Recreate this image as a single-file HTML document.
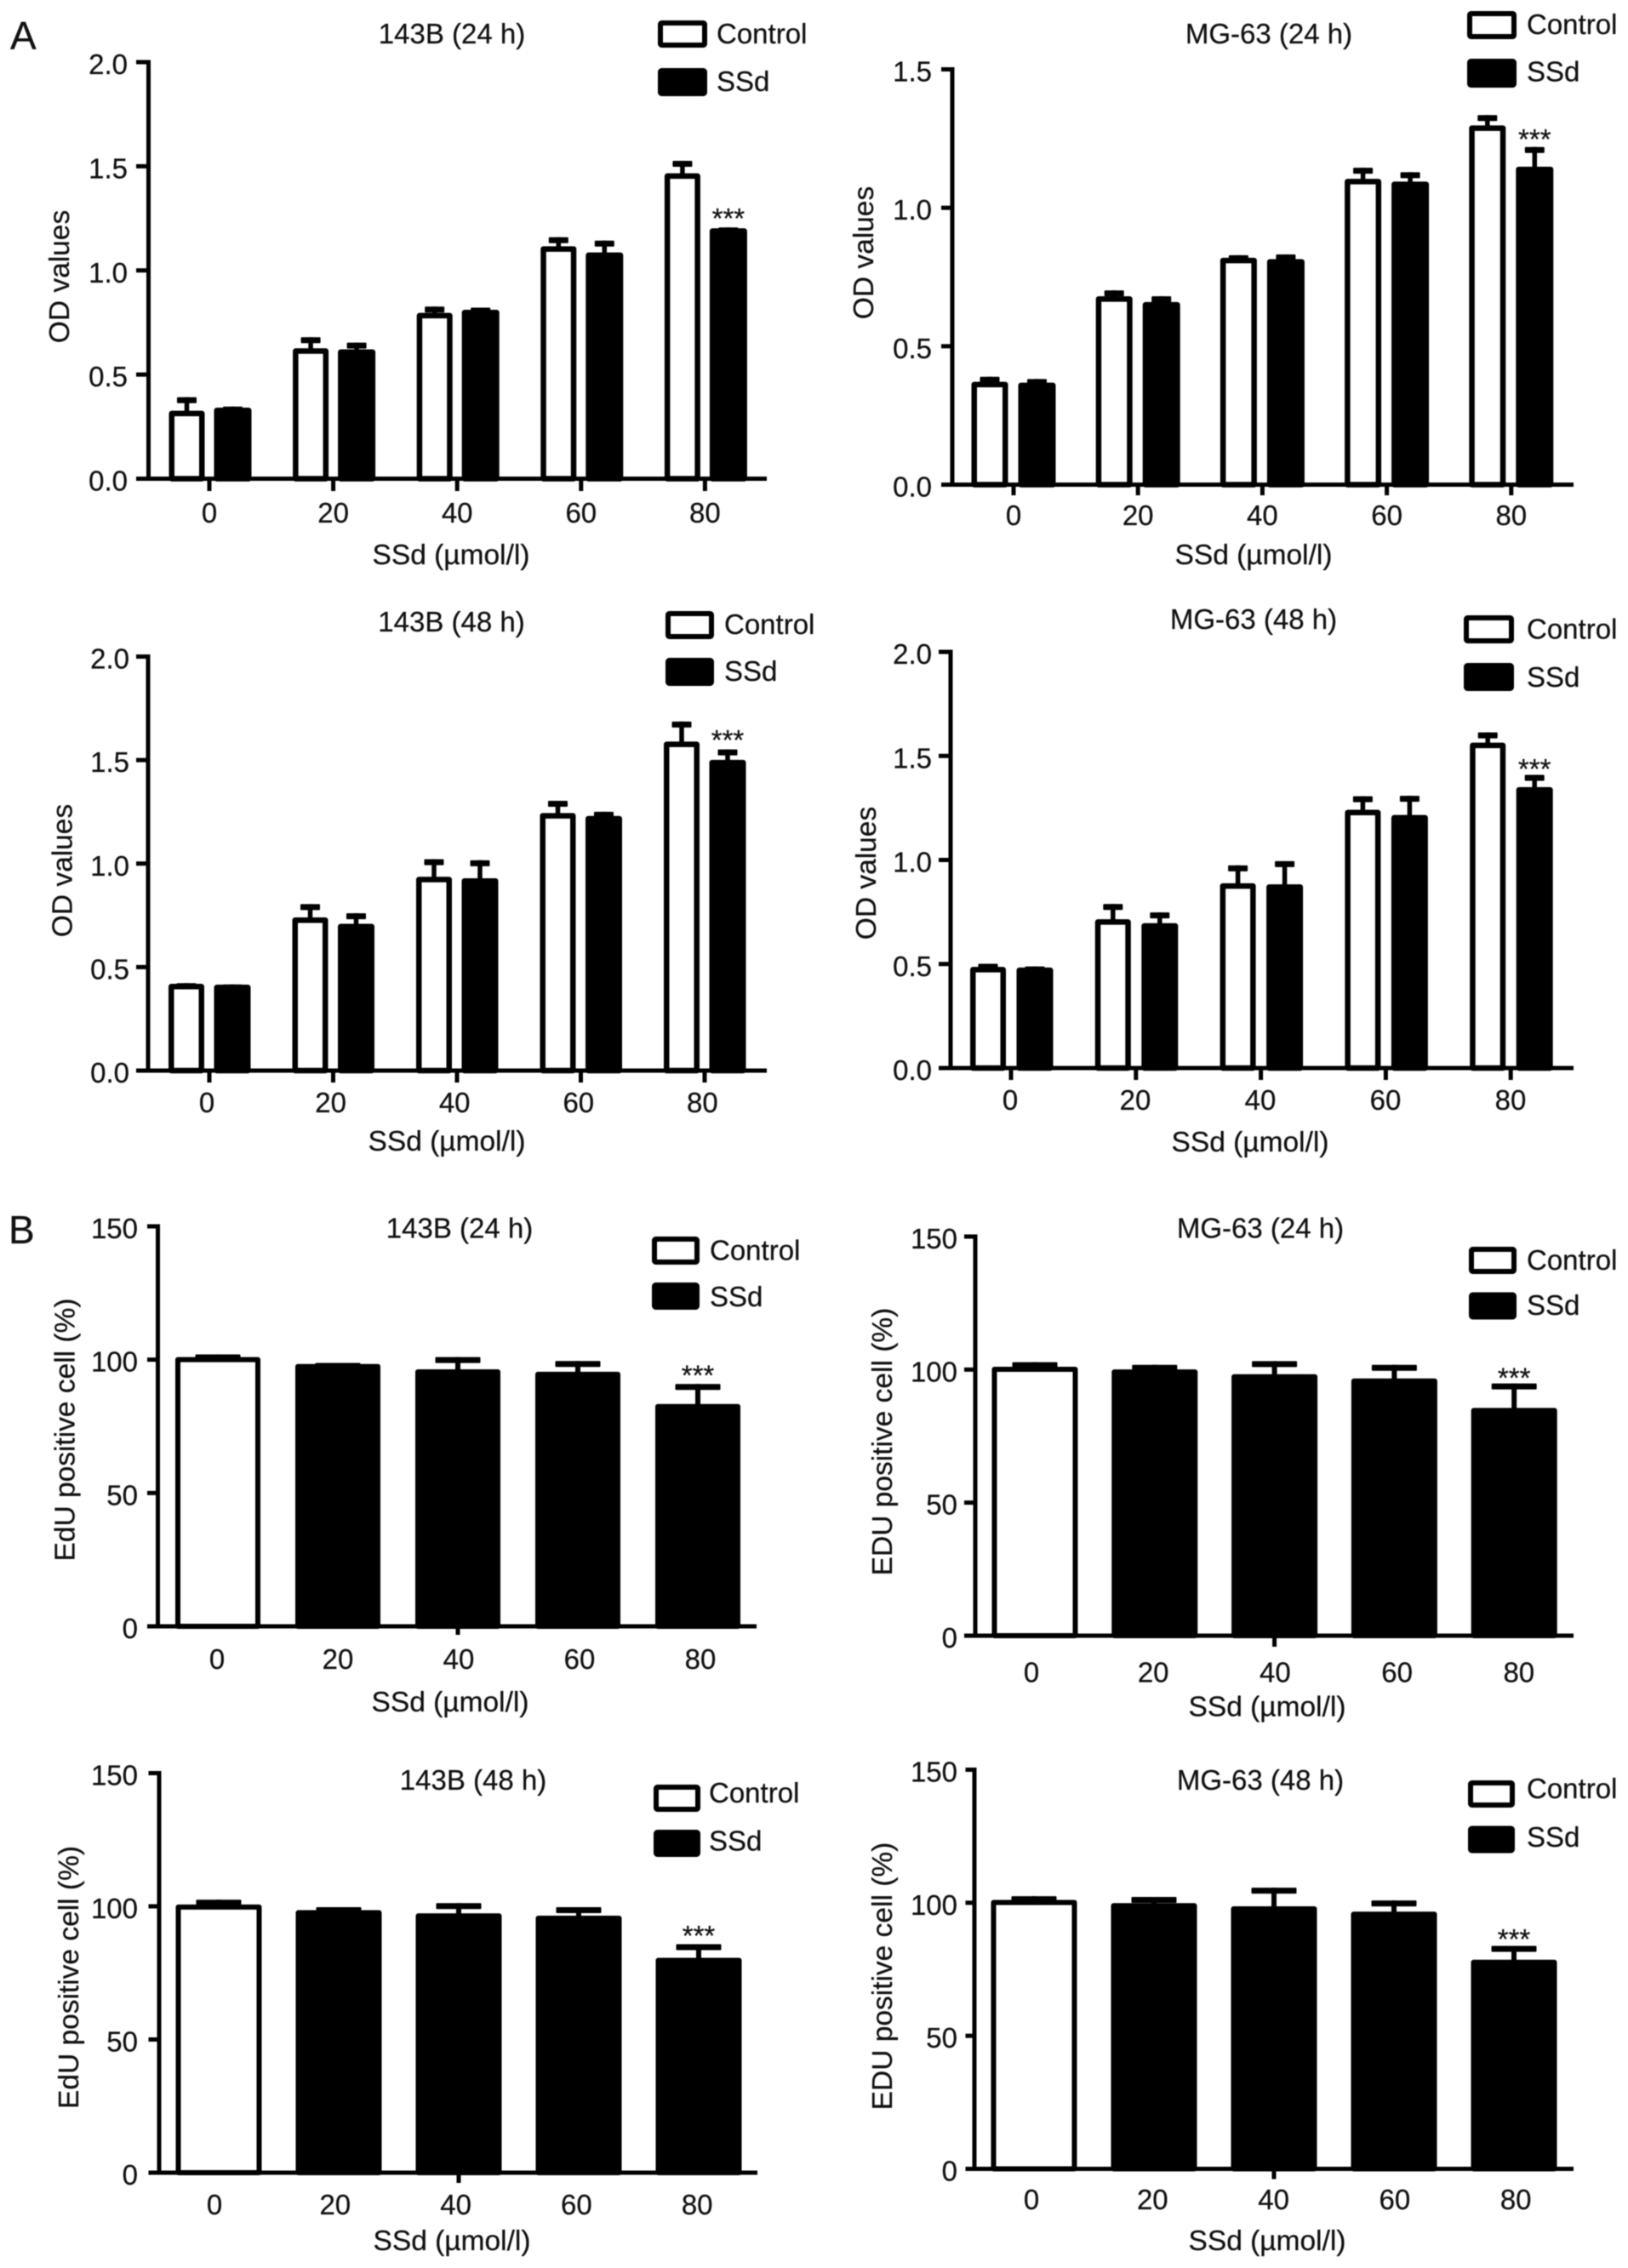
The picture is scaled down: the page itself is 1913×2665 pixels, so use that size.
<!DOCTYPE html>
<html lang="en">
<head>
<meta charset="utf-8">
<title>OD values and EdU positive cells by SSd dose</title>
<style>
  html, body { margin: 0; padding: 0; background: #fff; }
  body { width: 1913px; height: 2665px; overflow: hidden; }
  svg { display: block; filter: blur(0.5px); }
  text { font-family: "Liberation Sans", sans-serif; font-size: 33px; fill: #111; stroke: #111; stroke-width: 0.25px; }
</style>
</head>
<body>
<svg id="figure" xmlns="http://www.w3.org/2000/svg" width="1913" height="2665" viewBox="0 0 1913 2665">
  <rect x="0" y="0" width="1913" height="2665" fill="#fff"/>
  <text x="12" y="58" style="font-size:46px">A</text>
  <text x="10" y="1461" style="font-size:46px">B</text>
</svg>
<script>
// ---------- data ----------
const doseLabels = ['0', '20', '40', '60', '80'];
const odTicks20 = ['0.0', '0.5', '1.0', '1.5', '2.0'];
const odTicks15 = ['0.0', '0.5', '1.0', '1.5'];
const edu150Ticks = ['0', '50', '100', '150'];

const od143b24Control = [0.32, 0.62, 0.79, 1.11, 1.46];
const od143b24ControlErr = [0.065, 0.053, 0.03, 0.043, 0.06];
const od143b24Ssd = [0.335, 0.615, 0.805, 1.08, 1.196];
const od143b24SsdErr = [0.005, 0.032, 0.01, 0.057, 0.004];

const odMg24Control = [0.367, 0.676, 0.815, 1.1, 1.293];
const odMg24ControlErr = [0.018, 0.021, 0.009, 0.04, 0.037];
const odMg24Ssd = [0.364, 0.655, 0.81, 1.09, 1.144];
const odMg24SsdErr = [0.013, 0.021, 0.017, 0.034, 0.071];

const od143b48Control = [0.413, 0.734, 0.93, 1.238, 1.583];
const od143b48ControlErr = [0.003, 0.064, 0.085, 0.059, 0.097];
const od143b48Ssd = [0.409, 0.703, 0.923, 1.224, 1.495];
const od143b48SsdErr = [0.001, 0.051, 0.087, 0.02, 0.05];

const odMg48Control = [0.48, 0.709, 0.882, 1.235, 1.558];
const odMg48ControlErr = [0.015, 0.073, 0.086, 0.065, 0.049];
const odMg48Ssd = [0.477, 0.69, 0.877, 1.21, 1.344];
const odMg48SsdErr = [0.005, 0.052, 0.111, 0.092, 0.059];

const edu143b24 = [100.5, 97.9, 95.9, 95, 82.9];
const edu143b24Err = [1, 0.4, 4.6, 4, 7.5];
const eduMg24 = [100.6, 99.6, 97.8, 96.2, 85.1];
const eduMg24Err = [1.7, 1.7, 4.9, 5.1, 9.2];
const edu143b48 = [100.2, 98.1, 96.9, 96, 80.2];
const edu143b48Err = [1.8, 1.1, 3.8, 3.2, 5.1];
const eduMg48 = [100.6, 99.4, 98.2, 96.2, 78.1];
const eduMg48Err = [1.4, 2.3, 7, 4.2, 5.2];

// ---------- layout of each panel ----------
const panelLayouts = [
  { id: 'a-143b-24h', title: '143B (24 h)', yTitle: 'OD values', ticks: odTicks20,
    axisX: 174.5, xStart: 160, xEnd: 901, yTop: 73, yBot: 562.5, tickBottom: 577,
    group0: 246, step: 145.6, tickIdx: [0, 1, 2, 3, 4],
    series: [
      { name: 'control', vals: od143b24Control, errs: od143b24ControlErr, off: -26.5, w: 42, fill: 'white' },
      { name: 'ssd', vals: od143b24Ssd, errs: od143b24SsdErr, off: 27.5, w: 44, fill: 'black' }],
    capW: 23, capH: 7, stem: 5.5, sw: 6.5,
    titleX: 531, titleY: 51, yTickEnd: 150, numY: 614, num0: 246, numStep: 145.6,
    xlabelX: 530, xlabelY: 663, ylabelX: 81, ylabelY: 325,
    legX: 773, legW: 58, legY: [24, 80], legH: [32, 33], legTextX: 842, legTextY: [51, 107],
    starSeries: 1, starGap: 17 },
  { id: 'a-mg63-24h', title: 'MG-63 (24 h)', yTitle: 'OD values', ticks: odTicks15,
    axisX: 1119, xStart: 1106, xEnd: 1849, yTop: 81.5, yBot: 569.5, tickBottom: 582,
    group0: 1191, step: 146.2, tickIdx: [0, 1, 2, 3, 4],
    series: [
      { name: 'control', vals: odMg24Control, errs: odMg24ControlErr, off: -28, w: 43, fill: 'white' },
      { name: 'ssd', vals: odMg24Ssd, errs: odMg24SsdErr, off: 27.5, w: 44, fill: 'black' }],
    capW: 23, capH: 7, stem: 5.5, sw: 6.5,
    titleX: 1491, titleY: 51, yTickEnd: 1095, numY: 617, num0: 1191, numStep: 146.2,
    xlabelX: 1473, xlabelY: 663, ylabelX: 1026, ylabelY: 297,
    legX: 1724, legW: 58, legY: [13, 69], legH: [33, 34], legTextX: 1794, legTextY: [40, 95.5],
    starSeries: 1, starGap: 15 },
  { id: 'a-143b-48h', title: '143B (48 h)', yTitle: 'OD values', ticks: odTicks20,
    axisX: 174, xStart: 160, xEnd: 901, yTop: 771.5, yBot: 1258, tickBottom: 1272,
    group0: 246, step: 145.5, tickIdx: [0, 1, 2, 3, 4],
    series: [
      { name: 'control', vals: od143b48Control, errs: od143b48ControlErr, off: -27, w: 42, fill: 'white' },
      { name: 'ssd', vals: od143b48Ssd, errs: od143b48SsdErr, off: 27, w: 43, fill: 'black' }],
    capW: 23, capH: 7, stem: 5.5, sw: 6.5,
    titleX: 530.5, titleY: 742, yTickEnd: 152, numY: 1307, num0: 243, numStep: 145.6,
    xlabelX: 525, xlabelY: 1352, ylabelX: 84.5, ylabelY: 1023,
    legX: 782, legW: 57, legY: [718, 773], legH: [33, 33], legTextX: 851, legTextY: [745, 800],
    starSeries: 1, starGap: 17 },
  { id: 'a-mg63-48h', title: 'MG-63 (48 h)', yTitle: 'OD values', ticks: odTicks20,
    axisX: 1117, xStart: 1103, xEnd: 1849, yTop: 766, yBot: 1255, tickBottom: 1269,
    group0: 1188, step: 146.8, tickIdx: [0, 1, 2, 3, 4],
    series: [
      { name: 'control', vals: odMg48Control, errs: odMg48ControlErr, off: -27, w: 42, fill: 'white' },
      { name: 'ssd', vals: odMg48Ssd, errs: odMg48SsdErr, off: 28, w: 43, fill: 'black' }],
    capW: 23, capH: 7, stem: 5.5, sw: 6.5,
    titleX: 1473, titleY: 739, yTickEnd: 1095, numY: 1304, num0: 1187, numStep: 147,
    xlabelX: 1469, xlabelY: 1353, ylabelX: 1029, ylabelY: 1026,
    legX: 1720, legW: 59, legY: [723, 779], legH: [33, 33], legTextX: 1794, legTextY: [750.5, 807],
    starSeries: 1, starGap: 13 },
  { id: 'b-143b-24h', title: '143B (24 h)', yTitle: 'EdU positive cell (%)', ticks: edu150Ticks,
    axisX: 185.5, xStart: 173, xEnd: 889, yTop: 1441, yBot: 1911, tickBottom: 1921,
    group0: 256, step: 141, tickIdx: [2],
    series: [
      { name: 'rate', vals: edu143b24, errs: edu143b24Err, off: 0, w: 100, fill: 'first-white' }],
    capW: 53, capH: 7, stem: 6, sw: 6,
    titleX: 540, titleY: 1454.5, yTickEnd: 162, numY: 1961, num0: 255, numStep: 142,
    xlabelX: 529, xlabelY: 2011, ylabelX: 87.5, ylabelY: 1680,
    legX: 766, legW: 56, legY: [1453, 1507], legH: [33, 32], legTextX: 834, legTextY: [1480.5, 1535],
    starSeries: 0, starGap: 16 },
  { id: 'b-mg63-24h', title: 'MG-63 (24 h)', yTitle: 'EDU positive cell (%)', ticks: edu150Ticks,
    axisX: 1146, xStart: 1133, xEnd: 1849, yTop: 1453, yBot: 1922, tickBottom: 1935,
    group0: 1216, step: 140.8, tickIdx: [2],
    series: [
      { name: 'rate', vals: eduMg24, errs: eduMg24Err, off: 0, w: 101, fill: 'first-white' }],
    capW: 53, capH: 7, stem: 6, sw: 6,
    titleX: 1481, titleY: 1454.5, yTickEnd: 1125, numY: 1976.5, num0: 1212, numStep: 143.2,
    xlabelX: 1489, xlabelY: 2016.5, ylabelX: 1048, ylabelY: 1694,
    legX: 1726, legW: 56, legY: [1465, 1518.5], legH: [32, 32], legTextX: 1794, legTextY: [1492, 1545],
    starSeries: 0, starGap: 12.5 },
  { id: 'b-143b-48h', title: '143B (48 h)', yTitle: 'EdU positive cell (%)', ticks: edu150Ticks,
    axisX: 187, xStart: 174.5, xEnd: 890, yTop: 2083.5, yBot: 2553, tickBottom: 2565,
    group0: 257, step: 141, tickIdx: [2],
    series: [
      { name: 'rate', vals: edu143b48, errs: edu143b48Err, off: 0, w: 101, fill: 'first-white' }],
    capW: 53, capH: 7, stem: 6, sw: 6,
    titleX: 556, titleY: 2103, yTickEnd: 162, numY: 2602, num0: 252, numStep: 141.8,
    xlabelX: 531, xlabelY: 2644, ylabelX: 92, ylabelY: 2323.5,
    legX: 768, legW: 55, legY: [2097, 2150], legH: [32, 32], legTextX: 833, legTextY: [2118, 2174.5],
    starSeries: 0, starGap: 16 },
  { id: 'b-mg63-48h', title: 'MG-63 (48 h)', yTitle: 'EDU positive cell (%)', ticks: edu150Ticks,
    axisX: 1145, xStart: 1134.5, xEnd: 1849, yTop: 2079.5, yBot: 2548.5, tickBottom: 2560.5,
    group0: 1215, step: 141, tickIdx: [2],
    series: [
      { name: 'rate', vals: eduMg48, errs: eduMg48Err, off: 0, w: 101, fill: 'first-white' }],
    capW: 53, capH: 7, stem: 6, sw: 6,
    titleX: 1481, titleY: 2103, yTickEnd: 1125, numY: 2596, num0: 1212, numStep: 142.3,
    xlabelX: 1489, xlabelY: 2644, ylabelX: 1048, ylabelY: 2322,
    legX: 1725, legW: 55, legY: [2092, 2145.5], legH: [32, 32], legTextX: 1794, legTextY: [2113, 2170],
    starSeries: 0, starGap: 14 }
];

// ---------- drawing ----------
const NS = 'http://www.w3.org/2000/svg';
const svg = document.getElementById('figure');
const TOP_NUDGE = 1.5;

function mk(tag, parent, attrs, txt) {
  const el = document.createElementNS(NS, tag);
  for (const k in attrs) el.setAttribute(k, attrs[k]);
  if (txt !== undefined) el.textContent = txt;
  parent.appendChild(el);
  return el;
}

function drawPanel(p) {
  const maxVal = parseFloat(p.ticks[p.ticks.length - 1]);
  const yScale = v => p.yBot - (v / maxVal) * (p.yBot - p.yTop);
  const xScale = i => p.group0 + p.step * i;
  const numScale = i => p.num0 + p.numStep * i;

  const g = mk('g', svg, {});
  
  

  const title = mk('text', g, { x: p.titleX, y: p.titleY, 'text-anchor': 'middle' }, p.title);
  
  

  // error bars go behind the bars
  p.series.forEach(s => {
    s.vals.forEach((v, i) => {
      const cx = xScale(i) + s.off;
      const top = yScale(v + s.errs[i]) - TOP_NUDGE;
      const stem = mk('rect', g, { x: cx - p.stem / 2, y: top, width: p.stem, height: Math.max(0, yScale(v) - top) + 2, fill: '#000' });
      
      
      const cap = mk('rect', g, { x: cx - p.capW / 2, y: top, width: p.capW, height: p.capH, fill: '#000', rx: 1 });
      
      
    });
  });

  // bars
  p.series.forEach(s => {
    s.vals.forEach((v, i) => {
      const cx = xScale(i) + s.off;
      const top = yScale(v) - TOP_NUDGE + p.sw / 2;
      const white = s.fill === 'white' || (s.fill === 'first-white' && i === 0);
      const bar = mk('rect', g, {
        x: cx - s.w / 2 + p.sw / 2, y: top, width: s.w - p.sw, height: p.yBot - top,
        fill: white ? '#fff' : '#000', stroke: '#000', 'stroke-width': p.sw, 'stroke-linejoin': 'round'
      });
      
      
    });
  });

  // axes
  const yAxis = mk('line', g, { x1: p.axisX, x2: p.axisX, y1: p.yTop - 2.5, y2: p.yBot + 2.5, stroke: '#000', 'stroke-width': 5 });
  
  
  const xAxis = mk('line', g, { x1: p.xStart, x2: p.xEnd, y1: p.yBot, y2: p.yBot, stroke: '#000', 'stroke-width': 5 });
  
  

  p.ticks.forEach(t => {
    const y = yScale(parseFloat(t));
    const tick = mk('line', g, { x1: p.xStart, x2: p.axisX, y1: y, y2: y, stroke: '#000', 'stroke-width': 5 });
    
    
    const label = mk('text', g, { x: p.yTickEnd, y: y + 14, 'text-anchor': 'end' }, t);
    
    
  });

  p.tickIdx.forEach(i => {
    const tick = mk('line', g, { x1: xScale(i), x2: xScale(i), y1: p.yBot, y2: p.tickBottom, stroke: '#000', 'stroke-width': 5 });
    
    
  });

  doseLabels.forEach((d, i) => {
    const label = mk('text', g, { x: numScale(i), y: p.numY, 'text-anchor': 'middle' }, d);
    
    
  });

  const xTitle = mk('text', g, { x: p.xlabelX, y: p.xlabelY, 'text-anchor': 'middle', style: 'font-size:33.5px' }, 'SSd (\u00B5mol/l)');
  
  

  const yTitle = mk('text', g, {
    x: p.ylabelX, y: p.ylabelY, 'text-anchor': 'middle', style: 'font-size:33.5px',
    transform: 'rotate(-90 ' + p.ylabelX + ' ' + p.ylabelY + ')'
  }, p.yTitle);
  
  

  // legend
  ['Control', 'SSd'].forEach((name, k) => {
    const swatch = mk('rect', g, {
      x: p.legX + 3, y: p.legY[k] + 3, width: p.legW - 6, height: p.legH[k] - 6, rx: 1.5,
      fill: k === 0 ? '#fff' : '#000', stroke: '#000', 'stroke-width': 6, 'stroke-linejoin': 'round'
    });
    
    
    const lab = mk('text', g, { x: p.legTextX, y: p.legTextY[k] }, name);
    
    
  });

  // significance mark sits above the last bar's error cap
  const ss = p.series[p.starSeries];
  const last = ss.vals.length - 1;
  const starY = yScale(ss.vals[last] + ss.errs[last]) - p.starGap + 16;
  const star = mk('text', g, { x: xScale(last) + ss.off, y: starY, 'text-anchor': 'middle' }, '***');
  
  
}

panelLayouts.forEach(drawPanel);
</script>
</body>
</html>
